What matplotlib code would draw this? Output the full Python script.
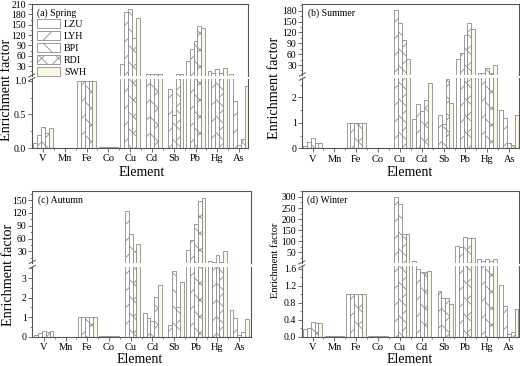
import matplotlib
matplotlib.use('Agg')
import matplotlib.pyplot as plt
import numpy as np
from matplotlib.patches import Patch
from matplotlib.lines import Line2D
from matplotlib.ticker import FixedLocator, FormatStrFormatter

plt.rcParams['font.family'] = ['Liberation Serif', 'DejaVu Serif']
plt.rcParams['hatch.linewidth'] = 0.6
plt.rcParams['hatch.color'] = '#8c8c8c'

elements = ['V', 'Mn', 'Fe', 'Co', 'Cu', 'Cd', 'Sb', 'Pb', 'Hg', 'As']
sites = ['LZU', 'LYH', 'BPI', 'RDI', 'SWH']

# Enrichment factors per site (order of elements as above); 0 = no bar
spring_LZU = [0.08, 0.005, 1.0, 0.02, 35, 0, 0, 46, 15, 5.5]
spring_LYH = [0.20, 0.005, 1.0, 0.01, 188, 5.5, 0.87, 78, 11, 0.70]
spring_BPI = [0.31, 0.005, 1.0, 0.015, 195, 5.5, 0.49, 104, 20, 0.045]
spring_RDI = [0.22, 0.005, 1.0, 0.02, 112, 5.5, 5.5, 145, 10, 0.13]
spring_SWH = [0.29, 0.005, 1.0, 0.02, 170, 5.5, 5.5, 139, 25, 0.92]

summer_LZU = [0.10, 0.005, 1.0, 0.03, 0, 1.15, 0, 48, 7, 1.52]
summer_LYH = [0.26, 0.005, 1.0, 0.03, 182, 1.74, 1.31, 62, 9, 1.17]
summer_BPI = [0.41, 0.005, 1.0, 0.03, 145, 1.47, 0.95, 113, 22, 0.22]
summer_RDI = [0.22, 0.005, 1.0, 0.03, 99, 1.90, 2.72, 147, 7, 0.12]
summer_SWH = [0.22, 0.005, 1.0, 0.03, 46, 2.55, 1.76, 129, 30, 1.32]

autumn_LZU = [0.07, 0.005, 1.0, 0.02, 0, 1.20, 0, 33, 7, 1.37]
autumn_LYH = [0.20, 0.005, 1.0, 0.02, 125, 0.95, 0.60, 56, 5, 0.97]
autumn_BPI = [0.28, 0.005, 1.0, 0.02, 70, 0.82, 3.36, 93, 21, 0.10]
autumn_RDI = [0.24, 0.005, 1.0, 0.02, 30, 2.05, 1.50, 148, 5, 0.22]
autumn_SWH = [0.29, 0.005, 1.0, 0.02, 47, 2.63, 2.79, 156, 31, 0.93]

winter_LZU = [0.17, 0.005, 1.0, 0.02, 0, 11, 0, 80, 19, 1.22]
winter_LYH = [0.20, 0.005, 1.0, 0.01, 298, 1.58, 1.08, 76, 12, 0.73]
winter_BPI = [0.35, 0.005, 1.0, 0.01, 268, 1.52, 0.92, 118, 19, 0.06]
winter_RDI = [0.33, 0.005, 1.0, 0.01, 132, 1.52, 0.92, 113, 12, 0.11]
winter_SWH = [0.33, 0.005, 1.0, 0.01, 132, 1.55, 0.77, 114, 19, 0.64]

seasons = {
    'spring': [spring_LZU, spring_LYH, spring_BPI, spring_RDI, spring_SWH],
    'summer': [summer_LZU, summer_LYH, summer_BPI, summer_RDI, summer_SWH],
    'autumn': [autumn_LZU, autumn_LYH, autumn_BPI, autumn_RDI, autumn_SWH],
    'winter': [winter_LZU, winter_LYH, winter_BPI, winter_RDI, winter_SWH],
}

hatches = ['', '//', '\\\\', 'xx', '']
fills = ['white', 'white', 'white', 'white', '#FBF8E2']
edge = '#8c8c8c'
spine_c = '#555555'

W, H = 520, 366
fig = plt.figure(figsize=(W / 100, H / 100), dpi=100)


def rect(l, r, t, b):
    return [l / W, 1 - b / H, (r - l) / W, (b - t) / H]


panels = [
    dict(key='spring', label='(a) Spring', l=31.7, r=248, ut=4, ub=76, lt=78.7, lb=148,
         xlim=(-0.52, 9.41), upper=(1.03, 210), lower=(0, 1.03),
         uticks=np.arange(30, 211, 30), lticks=[0, 0.5, 1.0], lfmt='%.1f',
         yl=(7, 90, 10.2), xl=(142, 173, 'center'), legend=True),
    dict(key='summer', label='(b) Summer', l=302.3, r=519, ut=4, ub=74.9, lt=78.2, lb=148.3,
         xlim=(-0.47, 9.45), upper=(2.75, 198.5), lower=(0, 2.75),
         uticks=np.arange(30, 181, 30), lticks=[0, 1, 2], lfmt='%d',
         yl=(275, 88, 10.2), xl=(410, 173, 'center'), legend=False),
    dict(key='autumn', label='(c) Autumn', l=32.3, r=250.7, ut=191.3, ub=262.5, lt=266.5, lb=336.7,
         xlim=(-0.53, 9.53), upper=(3.6, 171), lower=(0, 3.6),
         uticks=np.arange(30, 151, 30), lticks=[0, 1, 2, 3], lfmt='%d',
         yl=(8.5, 275, 10.2), xl=(140, 366, 'bottom'), legend=False),
    dict(key='winter', label='(d) Winter', l=301.7, r=519, ut=191.3, ub=263.0, lt=266, lb=336.7,
         xlim=(-0.5, 9.47), upper=(1.66, 325.6), lower=(0, 1.66),
         uticks=np.arange(50, 301, 50), lticks=[0, 0.4, 0.8, 1.2, 1.6], lfmt='%.1f',
         yl=(275.5, 260, 7.5), xl=(410, 366, 'bottom'), legend=False),
]

x = np.arange(len(elements))
bw = 0.178
offsets = (np.arange(5) - 2) * bw

for p in panels:
    axu = fig.add_axes(rect(p['l'], p['r'], p['ut'], p['ub']))
    axl = fig.add_axes(rect(p['l'], p['r'], p['lt'], p['lb']))
    data = seasons[p['key']]
    for ax in (axu, axl):
        for i, vals in enumerate(data):
            ax.bar(x + offsets[i], vals, bw, color=fills[i], edgecolor=edge,
                   hatch=hatches[i], linewidth=0.6)
        ax.set_xlim(*p['xlim'])
        for s in ax.spines.values():
            s.set_color(spine_c)
            s.set_linewidth(0.8)
        ax.tick_params(axis='both', direction='out', length=3, width=0.6,
                       colors=spine_c, labelcolor='black', labelsize=7, pad=1)
        ax.tick_params(which='minor', direction='out', length=1.6, width=0.5, colors=spine_c)
    axu.set_ylim(*p['upper'])
    axl.set_ylim(*p['lower'])
    axu.spines['bottom'].set_visible(False)
    axl.spines['top'].set_visible(False)
    axu.tick_params(axis='x', which='both', bottom=False, labelbottom=False)
    axu.yaxis.set_major_locator(FixedLocator(p['uticks']))
    step = p['uticks'][1] - p['uticks'][0]
    axu.yaxis.set_minor_locator(FixedLocator(np.arange(p['uticks'][0] - step / 2,
                                                       p['upper'][1], step)))
    axu.yaxis.set_major_formatter(FormatStrFormatter('%d'))
    lt = p['lticks']
    lstep = lt[1] - lt[0]
    axl.yaxis.set_major_locator(FixedLocator(lt))
    axl.yaxis.set_minor_locator(FixedLocator(np.arange(lstep / 2, p['lower'][1], lstep)))
    axl.yaxis.set_major_formatter(FormatStrFormatter(p['lfmt']))
    axl.set_xticks(x)
    axl.set_xticklabels(elements, fontsize=7.5)
    axl.xaxis.set_minor_locator(FixedLocator(x[:-1] + 0.5))
    axl.tick_params(axis='x', pad=1.5)

    # break marks on left spine
    for yy in (p['ub'] - 0.5, p['lt'] + 0.5):
        xs = [(p['l'] - 3) / W, (p['l'] + 3) / W]
        ys = [1 - (yy + 1.6) / H, 1 - (yy - 1.6) / H]
        fig.add_artist(Line2D(xs, ys, color=spine_c, linewidth=0.7))

    axu.text(0.025, 0.875, p['label'], transform=axu.transAxes, fontsize=7,
             va='center', ha='left')

    fig.text(p['yl'][0] / W, 1 - p['yl'][1] / H, 'Enrichment factor', rotation=90,
             ha='center', va='center', fontsize=p['yl'][2])
    fig.text(p['xl'][0] / W, 1 - p['xl'][1] / H, 'Element', ha='center', va=p['xl'][2],
             fontsize=10)

    if p['legend']:
        handles = [Patch(facecolor=fills[i], edgecolor=edge, hatch=hatches[i],
                         linewidth=0.6) for i in range(5)]
        axu.legend(handles, sites, loc='upper left', bbox_to_anchor=(0.025, 0.79),
                   frameon=False, fontsize=7.2, handlelength=2.3, handleheight=1.0,
                   labelspacing=0.2, handletextpad=0.4, borderpad=0, borderaxespad=0)

fig.savefig('out.png', dpi=100)
